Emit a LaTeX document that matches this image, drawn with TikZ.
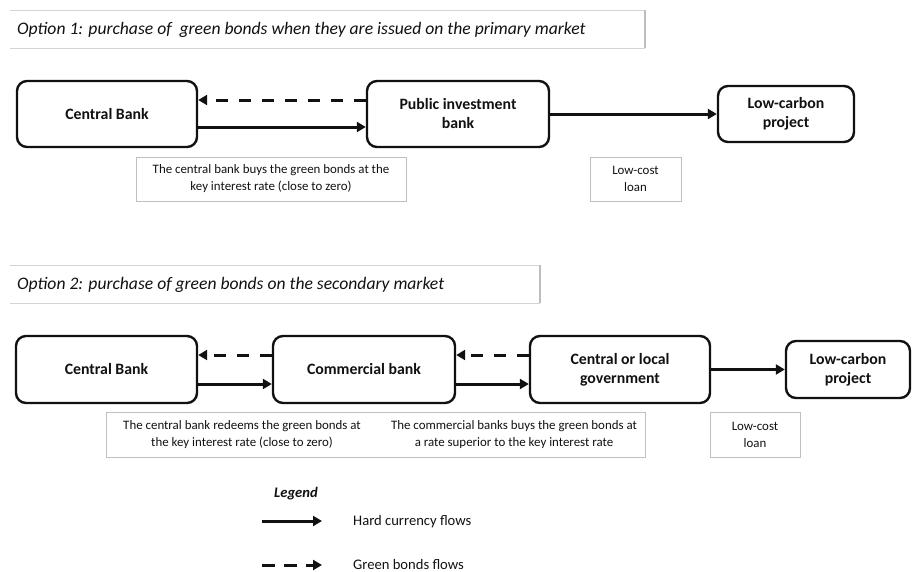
\documentclass[tikz,border=0pt]{standalone}
\usepackage{fontspec}
\setmainfont{Carlito}
\usetikzlibrary{arrows.meta}
\definecolor{hdrline}{HTML}{D4D4D4}
\definecolor{hdrside}{HTML}{BDBDBD}
\definecolor{noteline}{HTML}{BFBFBF}
\definecolor{ink}{HTML}{111111}
\begin{document}
\begin{tikzpicture}[x=1pt,y=-1pt,
  actor/.style={draw=ink,line width=2.4pt,rounded corners=10pt,minimum width=180pt,minimum height=66pt,
    align=center,font=\fontsize{15.8}{19}\selectfont\bfseries,text=ink,inner sep=2pt},
  note/.style={draw=noteline,line width=0.9pt,align=center,font=\fontsize{12.9}{17}\selectfont,text=ink,inner sep=0pt},
  notetext/.style={align=center,font=\fontsize{12.9}{17}\selectfont,text=ink,inner sep=0pt},
  flow/.style={draw=ink,line width=3pt,-{Triangle[length=9pt,width=10pt]}},
  gflow/.style={flow,dash pattern=on 12pt off 11pt},
  header/.style={font=\fontsize{17.6}{20}\selectfont\itshape,text=ink,anchor=west,inner sep=0pt},
  legtext/.style={font=\fontsize{14.6}{17}\selectfont,text=ink,anchor=west,inner sep=0pt}]
\useasboundingbox (0,0) rectangle (912,571);

% ---- Option 1 ----
\draw[hdrline,line width=0.9pt] (10,10) -- (645,10) (10,48) -- (645,48);
\draw[hdrside,line width=1.2pt] (645,10) -- (645,48);
\node[header] (h1) at (17,30) {Option 1: purchase of \ green bonds when they are issued on the primary market};

\node[actor] (cb1) at (107,114) {Central Bank};
\node[actor,minimum width=182pt] (pib) at (458,114) {Public investment\\bank};
\node[actor,minimum width=136pt,minimum height=56pt] (lcp1) at (786,114) {Low-carbon\\project};

\draw[gflow] ([yshift=14pt]pib.west) -- ([yshift=14pt]cb1.east);
\draw[flow] ([yshift=-13pt]cb1.east) -- ([yshift=-13pt]pib.west);
\draw[flow] (pib.east) -- (lcp1.west);

\node[note,minimum width=270pt,minimum height=44pt] (n1) at (271,179)
  {The central bank buys the green bonds at the\\key interest rate (close to zero)};
\node[note,minimum width=91pt,minimum height=44pt] (n2) at (635.5,179) {Low-cost\\loan};

% ---- Option 2 ----
\draw[hdrline,line width=0.9pt] (10,265) -- (540,265) (10,303) -- (540,303);
\draw[hdrside,line width=1.2pt] (540,265) -- (540,303);
\node[header] (h2) at (17,285) {Option 2: purchase of green bonds on the secondary market};

\node[actor,minimum width=181pt,minimum height=67pt] (cb2) at (106.5,369.5) {Central Bank};
\node[actor,minimum width=182pt,minimum height=67pt] (com) at (364,369.5) {Commercial bank};
\node[actor,minimum width=180pt,minimum height=67pt] (gov) at (620,369.5) {Central or local\\government};
\node[actor,minimum width=124pt,minimum height=57pt] (lcp2) at (848,369.5) {Low-carbon\\project};

\draw[gflow] ([yshift=14.5pt]com.west) -- ([yshift=14.5pt]cb2.east);
\draw[flow] ([yshift=-14.5pt]cb2.east) -- ([yshift=-14.5pt]com.west);
\draw[gflow] ([yshift=14.5pt]gov.west) -- ([yshift=14.5pt]com.east);
\draw[flow] ([yshift=-14.5pt]com.east) -- ([yshift=-14.5pt]gov.west);
\draw[flow] (gov.east) -- (lcp2.west);

\node[note,minimum width=539pt,minimum height=45pt] (n3) at (375.5,434.5) {};
\node[notetext] (n3a) at (242,434.5)
  {The central bank redeems the green bonds at\\the key interest rate (close to zero)};
\node[notetext] (n3b) at (514,434.5)
  {The commercial banks buys the green bonds at\\a rate superior to the key interest rate};
\node[note,minimum width=90pt,minimum height=45pt] (n4) at (755,434.5) {Low-cost\\loan};

% ---- Legend ----
\node[font=\fontsize{14.6}{17}\selectfont\bfseries\itshape,text=ink,inner sep=0pt] (leg) at (296,494) {Legend};
\coordinate (s1) at (262,521);
\coordinate (e1) at (322,521);
\coordinate (s2) at (262,565);
\coordinate (e2) at (322,565);
\draw[flow] (s1) -- (e1);
\draw[flow,dash pattern=on 13pt off 9pt] (s2) -- (e2);
\node[legtext] (l1) at (353,522) {Hard currency flows};
\node[legtext] (l2) at (353,564) {Green bonds flows};
\end{tikzpicture}
\end{document}
